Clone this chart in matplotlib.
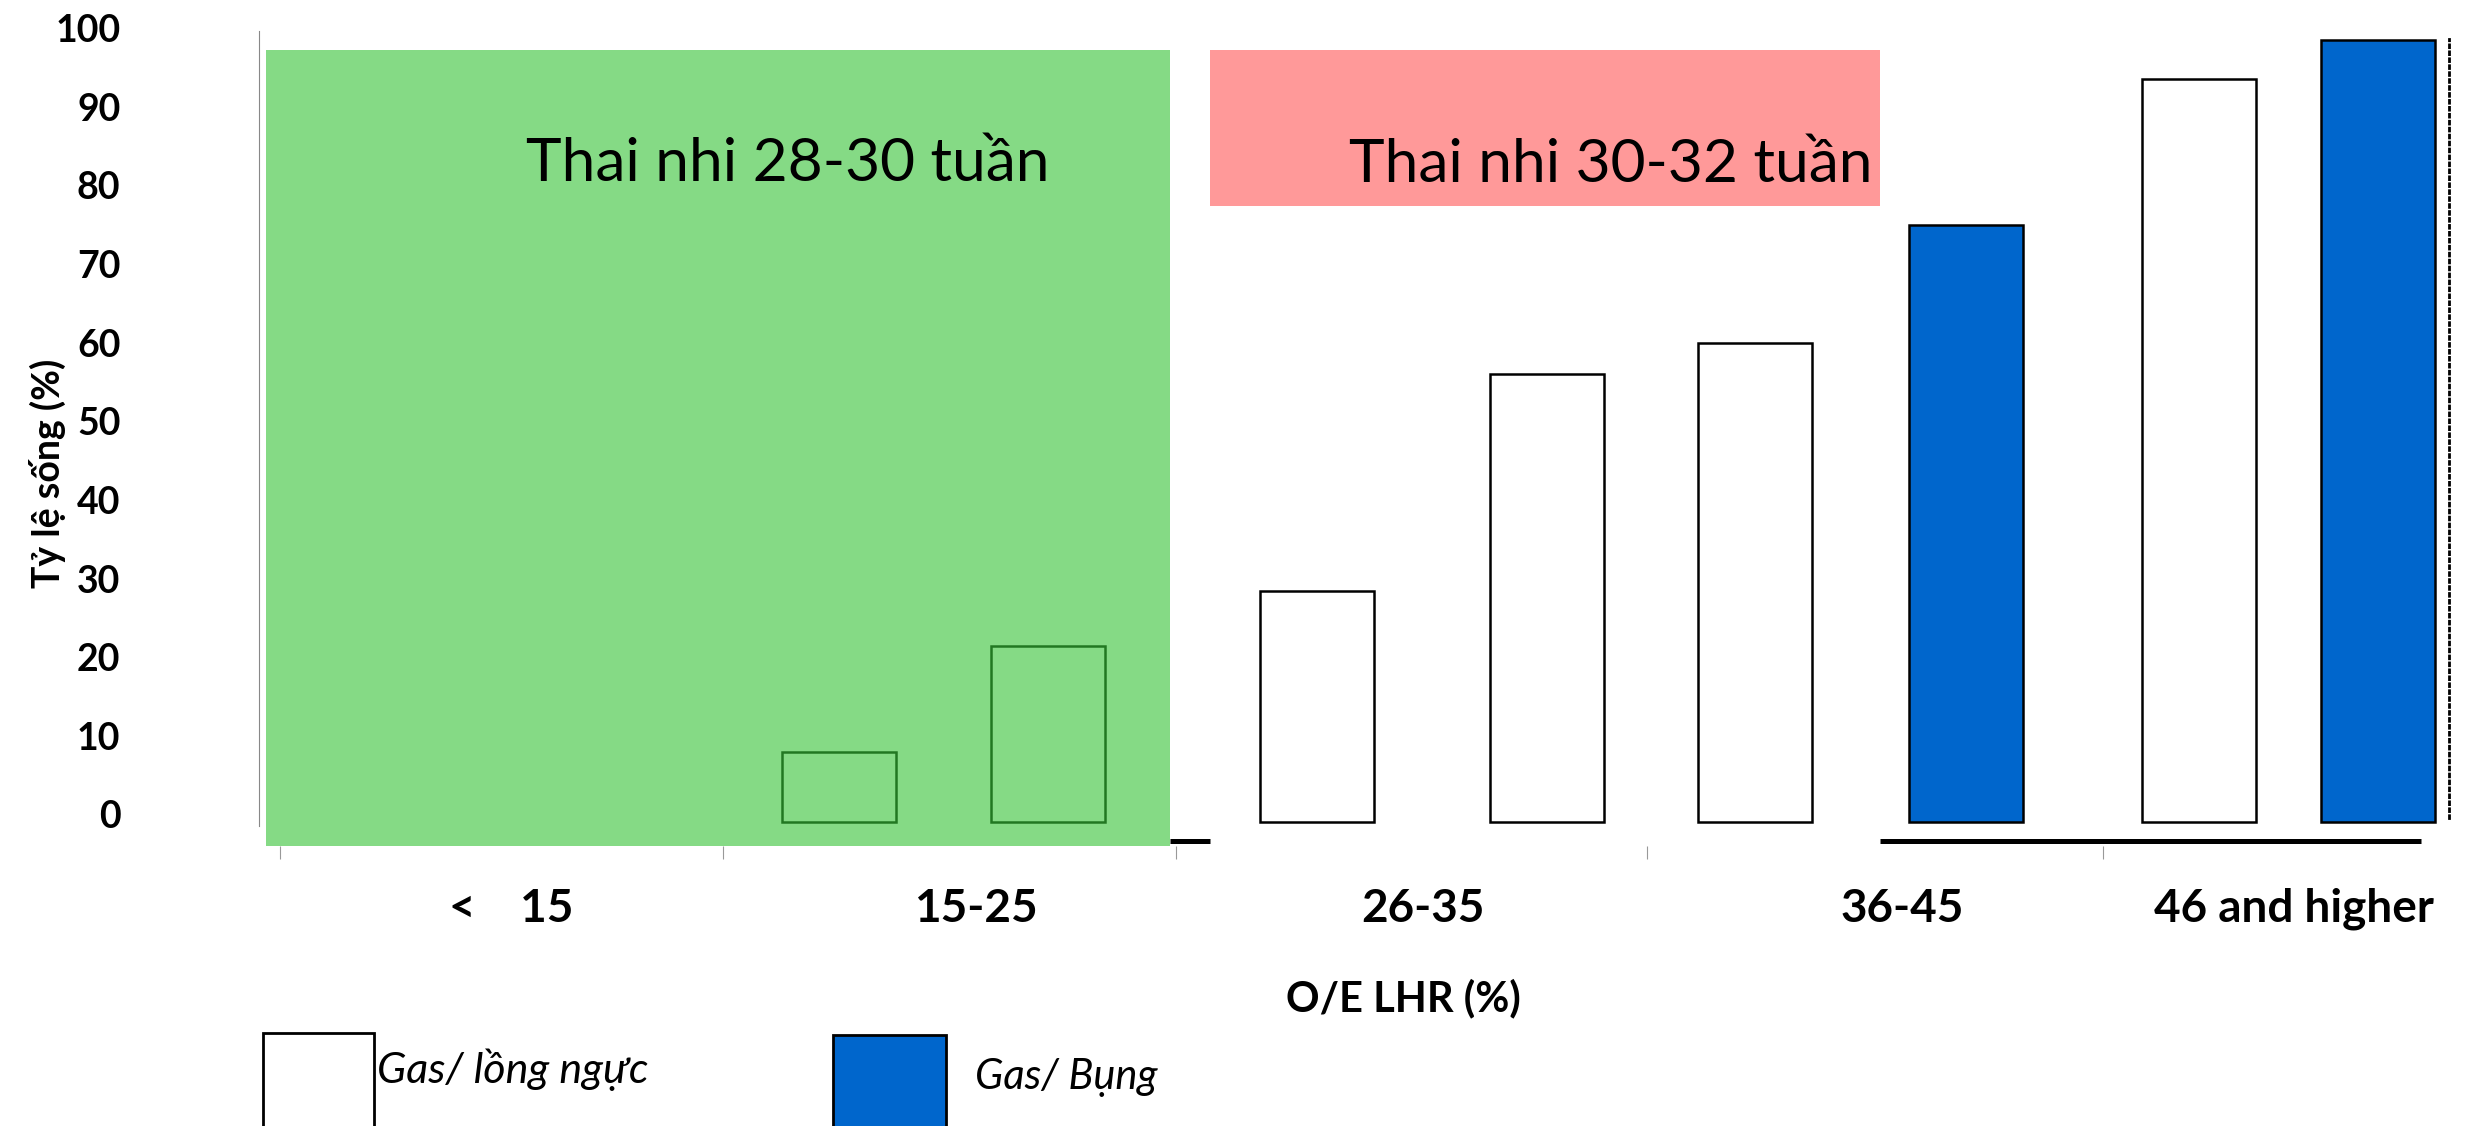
import matplotlib
matplotlib.use("Agg")
import matplotlib.pyplot as plt
from matplotlib.patches import Rectangle
from matplotlib.transforms import ScaledTranslation

# data
groups = ["<    15", "15-25", "26-35", "36-45", "46 and higher"]
survival = [9, 22.5, 29.5, 57, 61, 76, 94.5, 99.5]
liver = ["up", "up", "up", "up", "up", "down", "up", "down"]
legend_labels = ["Gas/ lồng ngực", "Gas/ Bụng"]
band_labels = ["Thai nhi 28-30 tuần", "Thai nhi 30-32 tuần"]
yticks = list(range(0, 101, 10))

# layout (x in category units)
bar_x = [1.257, 1.717, 2.307, 2.810, 3.267, 3.729, 4.241, 4.634]
group_edges = [0.031, 1.003, 1.997, 3.031, 4.031]
label_x = [0.538, 1.559, 2.538, 3.59, 4.45]

plt.rcParams["font.family"] = ["Lato", "DejaVu Sans"]

colors = {"up": "white", "down": "#0066CC"}

fig = plt.figure(figsize=(24.65, 11.26), dpi=100)
ax = fig.add_axes([0.1052, 0.2486, 0.8884, 0.7235])
ax.set_xlim(-0.0138, 4.79)
ax.set_ylim(-3.0, 100.6)

ax.bar(bar_x, survival, width=0.25, color=[colors[l] for l in liver],
       edgecolor="black", linewidth=1.8, zorder=2)

# shaded gestational-age boxes
ax.add_patch(Rectangle((0, -3.0), 1.983, 101.2, facecolor=(0.22, 0.77, 0.22),
                       alpha=0.61, edgecolor="none", zorder=3, clip_on=False))
ax.add_patch(Rectangle((2.072, 78.4), 1.469, 19.8, facecolor="#FF9999",
                       edgecolor="none", zorder=3))
ax.text(0.572, 83.8, band_labels[0], fontsize=43.5, va="center", ha="left", zorder=4)
ax.text(2.376, 83.6, band_labels[1], fontsize=43.5, va="center", ha="left", zorder=4)

# leftover baseline pieces
ax.plot([1.983, 2.072], [-2.4, -2.4], color="black", lw=3.6, solid_capstyle="butt", zorder=2)
ax.plot([3.541, 4.728], [-2.4, -2.4], color="black", lw=3.6, solid_capstyle="butt", zorder=2)

for s in ["top", "bottom"]:
    ax.spines[s].set_visible(False)
ax.spines["left"].set_color("#888888")
ax.spines["left"].set_linewidth(0.8)
ax.spines["left"].set_bounds(-0.4, 100.6)
ax.spines["right"].set_linestyle((0, (1, 1.5)))
ax.spines["right"].set_linewidth(2.0)
ax.spines["right"].set_bounds(0.6, 99.6)

ax.set_yticks(yticks)
ax.set_yticklabels([str(v) for v in yticks], fontsize=27, fontweight="bold")
ax.tick_params(axis="y", length=0, pad=100)
for lab in ax.get_yticklabels():
    lab.set_transform(lab.get_transform() + ScaledTranslation(0, 0.08, fig.dpi_scale_trans))

ax.set_xticks(group_edges)
ax.set_xticklabels([])
ax.tick_params(axis="x", which="major", length=9, width=0.8, color="#999999", direction="out")
ax.set_xticks(label_x, minor=True)
ax.set_xticklabels(groups, minor=True, fontsize=33, fontweight="bold")
ax.tick_params(axis="x", which="minor", length=0, pad=30)

fig.text(893 / 1568, 1 - 635 / 716, "O/E LHR (%)", fontsize=30, fontweight="bold",
         ha="center", va="center")
fig.text(30 / 1568, 1 - 301 / 716, "Tỷ lệ sống (%)", fontsize=27, fontweight="bold",
         rotation=90, ha="center", va="center")

# legend boxes, cut off by the bottom edge like the slide
fig.patches.append(Rectangle((167 / 1568, -0.05), 71 / 1568, 0.05 + 59 / 716,
                             transform=fig.transFigure, facecolor=colors["up"],
                             edgecolor="black", linewidth=2.0))
fig.patches.append(Rectangle((530 / 1568, -0.05), 72 / 1568, 0.05 + 58 / 716,
                             transform=fig.transFigure, facecolor=colors["down"],
                             edgecolor="black", linewidth=2.0))
fig.text(240 / 1568, 1 - 680 / 716, legend_labels[0], fontsize=31, style="italic",
         ha="left", va="center")
fig.text(620 / 1568, 1 - 685 / 716, legend_labels[1], fontsize=30, style="italic",
         ha="left", va="center")

fig.savefig("out.png", dpi=100)
